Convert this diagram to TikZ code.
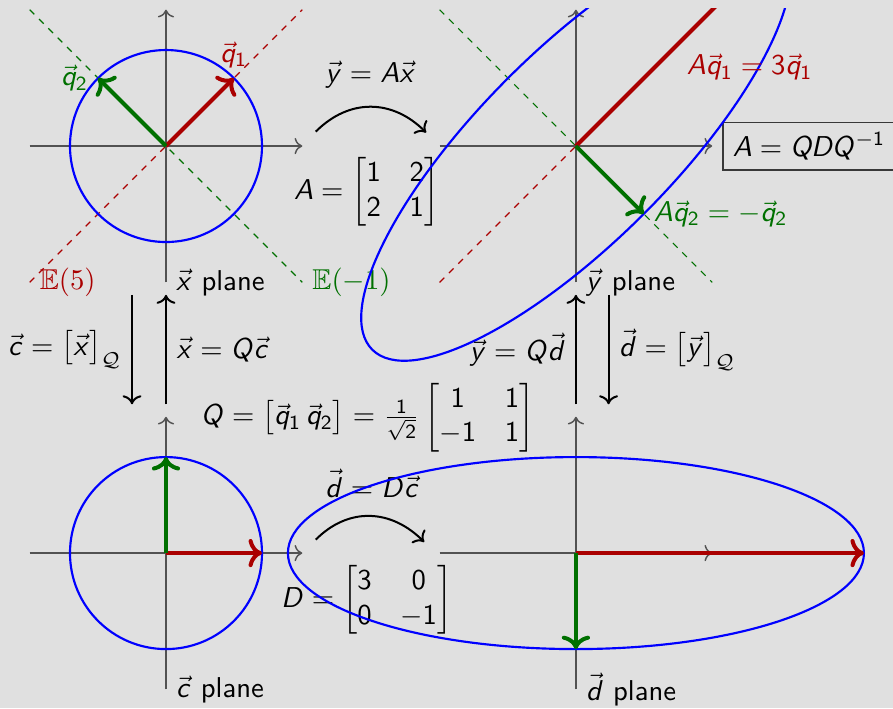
\documentclass[tikz,border=0pt]{standalone}
\usepackage{amsmath}
\usepackage{amssymb}
\usepackage{xcolor}
\usepackage{tikz}
\usetikzlibrary{arrows.meta}
\DeclareSymbolFont{eVecFont}{OML}{cmm}{m}{it}
\DeclareMathVersion{sans}
\SetSymbolFont{operators}{sans}{OT1}{cmss}{m}{n}
\SetSymbolFont{letters}{sans}{OT1}{cmss}{m}{it}
\DeclareMathAccent{\vec}{\mathord}{eVecFont}{"7E}
\definecolor{eRed}{RGB}{170,0,0}
\definecolor{eGreen}{RGB}{0,112,0}
\definecolor{eBlue}{RGB}{0,0,255}
\definecolor{eBack}{RGB}{224,224,224}
\tikzset{
  eAxis/.style={draw=black!68,line width=.5pt,->},
  eUnit/.style={draw=eBlue,line width=.75pt},
  eRedEig/.style={draw=eRed,line width=.4pt,dash pattern=on 2.3pt off 2.3pt},
  eGreenEig/.style={draw=eGreen,line width=.4pt,dash pattern=on 2.3pt off 2.3pt},
  eRedVec/.style={draw=eRed,line width=1.4pt,->},
  eGreenVec/.style={draw=eGreen,line width=1.4pt,->},
  eMap/.style={draw=black,line width=.7pt,->},
  eBox/.style={draw=black!78,line width=.6pt,inner sep=3.5pt},
  eSerif/.style={font=\rmfamily\mathversion{normal}},
}

\begin{document}
\begin{tikzpicture}[x=1.176cm,y=1.176cm,font=\sffamily\mathversion{sans}]
\path[use as bounding box,fill=eBack] (-1.729,1.521) rectangle (7.573,-5.854);
\clip (-1.729,1.43) rectangle (7.573,-5.854);

\coordinate (ox) at (0,0);
\coordinate (oy) at (4.27,0);
\coordinate (oc) at (0,-4.24);
\coordinate (od) at (4.27,-4.24);

\foreach \o in {ox,oy}{
  \draw[eRedEig] ([shift={(-1.42,-1.42)}]\o) -- ([shift={(1.42,1.42)}]\o);
  \draw[eGreenEig] ([shift={(-1.42,1.42)}]\o) -- ([shift={(1.42,-1.42)}]\o);
}
\foreach \o in {ox,oy,oc,od}{
  \draw[eAxis] ([shift={(-1.42,0)}]\o) -- ([shift={(1.42,0)}]\o);
  \draw[eAxis] ([shift={(0,-1.42)}]\o) -- ([shift={(0,1.42)}]\o);
}

\node[right] (xplane) at (0,-1.42) {$\vec x$ plane};
\node[right] (yplane) at (4.27,-1.42) {$\vec y$ plane};
\node[right] (cplane) at (0,-5.66) {$\vec c$ plane};
\node[right] (dplane) at (4.27,-5.66) {$\vec d$ plane};
\node[eSerif,text=eRed,right] (e5) at (-1.42,-1.42) {$\mathbb{E}(5)$};
\node[eSerif,text=eGreen,right] (em1) at (1.42,-1.42) {$\mathbb{E}(-1)$};

\node (ymap) at (2.13,0.745) {$\vec y = A\vec x$};
\node (amat) at (2.09,-0.48) {$A = \begin{bmatrix}1&2\\2&1\end{bmatrix}$};
\node (qmat) at (2.1,-2.83) {$Q = \bigl[\vec q_1\,\vec q_2\bigr] = \frac{1}{\sqrt{2}}\begin{bmatrix}1&1\\-1&1\end{bmatrix}$};
\node (dmap) at (2.15,-3.51) {$\vec d = D\vec c$};
\node (dmat) at (2.09,-4.73) {$D = \begin{bmatrix}3&0\\0&-1\end{bmatrix}$};
\node[eBox,right] (adiag) at (5.79,0) {$A = QDQ^{-1}$};

\draw[eUnit] (ox) circle (1);
\draw[eUnit,rotate around={45:(oy)}] (oy) ellipse (3 and 1);
\draw[eUnit] (oc) circle (1);
\draw[eUnit] (od) ellipse (3 and 1);

\coordinate (q1) at (0.7071,0.7071);
\coordinate (q2) at (-0.7071,0.7071);
\coordinate (Aq1) at (6.391,2.121);
\coordinate (Aq2) at (4.977,-0.7071);
\coordinate (c1) at (1,-4.24);
\coordinate (c2) at (0,-3.24);
\coordinate (d1) at (7.27,-4.24);
\coordinate (d2) at (4.27,-5.24);

\draw[eRedVec] (ox) -- (q1);
\draw[eGreenVec] (ox) -- (q2);
\draw[eRedVec] (oy) -- (Aq1);
\draw[eGreenVec] (oy) -- (Aq2);
\draw[eRedVec] (oc) -- (c1);
\draw[eGreenVec] (oc) -- (c2);
\draw[eRedVec] (od) -- (d1);
\draw[eGreenVec] (od) -- (d2);

\node[text=eRed,above] (q1lab) at (q1) {$\vec q_1$};
\node[text=eGreen,left] (q2lab) at (q2) {$\vec q_2$};
\node[text=eRed] (Aq1lab) at (6.08,0.82) {$A\vec q_1 = 3\vec q_1$};
\node[text=eGreen,right] (Aq2lab) at (Aq2) {$A\vec q_2 = -\vec q_2$};

\coordinate (mapA1) at (1.56,0.15);
\coordinate (mapA2) at (2.71,0.14);
\coordinate (mapD1) at (1.56,-4.10);
\coordinate (mapD2) at (2.69,-4.125);
\draw[eMap] (mapA1) to[out=45,in=135,looseness=1.1] (mapA2);
\draw[eMap] (mapD1) to[out=45,in=135,looseness=1.1] (mapD2);

\coordinate (toC1) at (-0.354,-1.55);
\coordinate (toC2) at (-0.354,-2.69);
\coordinate (toX1) at (0,-2.69);
\coordinate (toX2) at (0,-1.55);
\coordinate (toY1) at (4.27,-2.69);
\coordinate (toY2) at (4.27,-1.55);
\coordinate (toD1) at (4.61,-1.55);
\coordinate (toD2) at (4.61,-2.69);
\draw[eMap] (toC1) -- node[left] (cdef) {$\vec c = \bigl[\vec x\bigr]_{\mathcal{Q}}$} (toC2);
\draw[eMap] (toX1) -- node[right] (xdef) {$\vec x = Q\vec c$} (toX2);
\draw[eMap] (toY1) -- node[left] (ydef) {$\vec y = Q\vec d$} (toY2);
\draw[eMap] (toD1) -- node[right] (ddef) {$\vec d = \bigl[\vec y\bigr]_{\mathcal{Q}}$} (toD2);
\end{tikzpicture}
\end{document}
